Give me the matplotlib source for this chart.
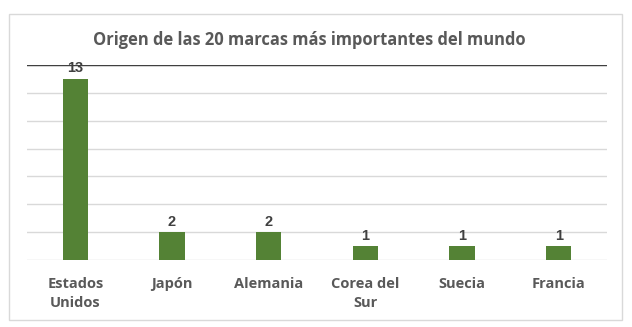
import matplotlib.pyplot as plt
from matplotlib.patches import Rectangle

paises = ["Estados\nUnidos", "Japón", "Alemania", "Corea del\nSur", "Suecia", "Francia"]
marcas = [13, 2, 2, 1, 1, 1]

plt.rcParams['font.family'] = ['Open Sans', 'DejaVu Sans']

fig = plt.figure(figsize=(6.32, 3.27), dpi=100)
ax = fig.add_axes([0.0427, 0.2049, 0.9177, 0.5963])

# borde del gráfico
fig.patches.append(Rectangle((9 / 632, 7 / 327), 613 / 632, 306 / 327,
                             transform=fig.transFigure, fill=False,
                             edgecolor="#d9d9d9", linewidth=1))

x = range(len(paises))
bars = ax.bar(x, marcas, width=0.26, color="#548235", zorder=3)

for b, v in zip(bars, marcas):
    ax.text(b.get_x() + b.get_width() / 2, v + 0.25, str(v), ha="center", va="bottom",
            fontsize=10.5, fontweight="bold", color="#404040", family="Liberation Sans")

ax.set_xlim(-0.5, len(paises) - 0.5)
ax.set_ylim(0, 14)
ax.set_yticks(range(0, 15, 2))
ax.yaxis.grid(True, color="#d9d9d9", linewidth=1, zorder=0)
ax.axhline(14, color="#404040", linewidth=1, zorder=4)
ax.tick_params(axis="y", left=False, labelleft=False)
ax.tick_params(axis="x", bottom=False, pad=9)
ax.set_xticks(list(x))
ax.set_xticklabels(paises, fontsize=10.5, fontweight="bold", color="#595959", va="top",
                   linespacing=1.4)
for s in ax.spines.values():
    s.set_visible(False)

fig.text(0.49, 0.877, "Origen de las 20 marcas más importantes del mundo", ha="center",
         va="center", fontsize=11.9, fontweight="bold", color="#595959")

fig.savefig("out.png", dpi=100)
